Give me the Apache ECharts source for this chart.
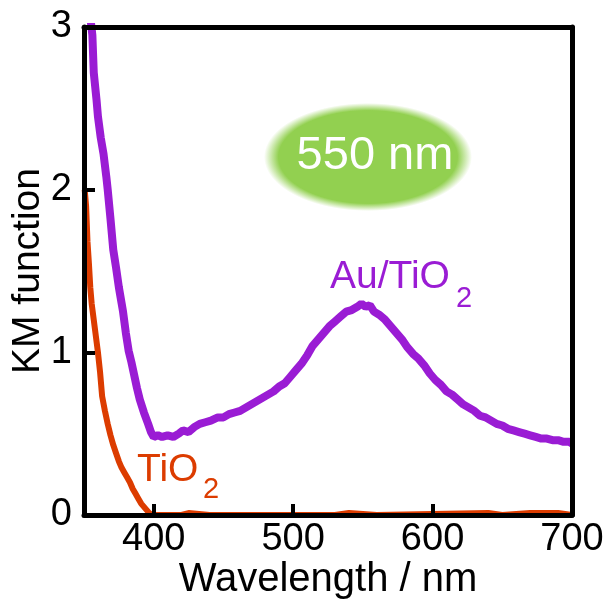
<!DOCTYPE html>
<html>
<head>
<meta charset="utf-8">
<title>KM function spectra</title>
<script src="https://cdn.jsdelivr.net/npm/echarts@6/dist/echarts.min.js"></script>
<style>
  html, body { margin: 0; padding: 0; background: #ffffff; }
  #chart { width: 608px; height: 604px; }
</style>
</head>
<body>
<div id="chart"></div>
<script>
// Wavelength ticks (nm) and KM-function ticks
const xTicks = [400, 500, 600, 700];
const yTicks = [0, 1, 2, 3];

// Au/TiO2 spectrum: wavelength (nm) and KM function
const auWl = [352, 354, 356, 357, 359, 360, 362, 364, 366, 367, 369, 371, 373, 375, 377, 378,
  380, 382, 384, 386, 388, 390, 393, 396, 398, 400, 403, 406, 410, 414, 418, 421, 425, 429,
  433, 437, 441, 446, 450, 454, 458, 462, 466, 470, 474, 478, 482, 486, 490, 494, 498, 502,
  506, 510, 514, 518, 522, 526, 530, 534, 538, 542, 546, 549, 552, 555, 558, 562, 566, 570,
  574, 578, 582, 586, 590, 594, 598, 602, 606, 610, 614, 618, 622, 626, 630, 634, 638, 642,
  646, 650, 654, 658, 662, 666, 670, 674, 678, 682, 686, 690, 694, 698, 700];
const auKM = [3.30, 3.10, 2.95, 2.72, 2.55, 2.45, 2.32, 2.22, 2.08, 2.00, 1.82, 1.63, 1.52, 1.40, 1.30, 1.25,
  1.12, 1.01, 0.94, 0.86, 0.78, 0.71, 0.63, 0.56, 0.51, 0.48, 0.49, 0.48, 0.49, 0.48, 0.50, 0.52, 0.51, 0.54,
  0.56, 0.57, 0.58, 0.60, 0.60, 0.62, 0.63, 0.64, 0.66, 0.68, 0.70, 0.72, 0.74, 0.76, 0.79, 0.81, 0.85, 0.89,
  0.93, 0.98, 1.04, 1.08, 1.12, 1.16, 1.19, 1.22, 1.25, 1.26, 1.28, 1.30, 1.28, 1.29, 1.25, 1.23, 1.20, 1.16,
  1.12, 1.08, 1.03, 0.99, 0.96, 0.92, 0.87, 0.83, 0.80, 0.76, 0.74, 0.71, 0.68, 0.66, 0.64, 0.61, 0.60, 0.58,
  0.56, 0.55, 0.53, 0.52, 0.51, 0.50, 0.49, 0.48, 0.47, 0.47, 0.46, 0.46, 0.45, 0.45, 0.44];

// Bare TiO2 spectrum: wavelength (nm) and KM function
const tiWl = [350.5, 351.5, 352.5, 353.5, 354.5, 355.5, 357, 358.5, 360, 361.5, 363, 365, 367, 369, 371,
  373, 375, 377, 379, 381, 383, 385, 387, 389, 391, 393, 395, 397, 399, 420, 425, 440, 530, 540, 560,
  640, 650, 670, 690, 700];
const tiKM = [2.00, 1.90, 1.68, 1.55, 1.40, 1.30, 1.20, 1.10, 1.00, 0.88, 0.73, 0.64, 0.56, 0.49, 0.43,
  0.38, 0.33, 0.29, 0.26, 0.23, 0.20, 0.16, 0.13, 0.10, 0.07, 0.05, 0.03, 0.01, 0.00, 0.00, 0.012, 0.00, 0.00, 0.012, 0.00,
  0.012, 0.00, 0.012, 0.012, 0.00];

const purple = '#9a1cd4';
const orange = '#dc3c00';
const fontFamily = '"Liberation Sans", Arial, Helvetica, sans-serif';

const pair = (xs, ys) => xs.map((x, i) => [x, ys[i]]);

const chart = echarts.init(document.getElementById('chart'), null, { renderer: 'canvas' });

const frameAxis = {
  axisLine: { show: true, onZero: false, lineStyle: { color: '#000', width: 5 } },
  axisTick: { show: false },
  axisLabel: { show: false },
  splitLine: { show: false },
  z: 10
};

chart.setOption({
  animation: false,
  backgroundColor: '#ffffff',
  grid: { left: 84, right: 36, top: 27, bottom: 89, containLabel: false, outerBoundsMode: 'none' },
  xAxis: [
    {
      type: 'value', min: 350, max: 700, position: 'bottom', z: 10,
      name: 'Wavelength / nm', nameLocation: 'middle', nameGap: 45, nameMoveOverlap: false,
      nameTextStyle: { color: '#000', fontSize: 40, fontFamily: fontFamily },
      axisLine: { show: true, onZero: false, lineStyle: { color: '#000', width: 5 } },
      axisTick: { show: true, inside: true, length: 11, customValues: xTicks, lineStyle: { color: '#000', width: 4 } },
      axisLabel: { show: true, margin: 6, customValues: xTicks, color: '#000', fontSize: 38, fontFamily: fontFamily },
      splitLine: { show: false }
    },
    Object.assign({ type: 'value', min: 350, max: 700, position: 'top' }, frameAxis)
  ],
  yAxis: [
    {
      type: 'value', min: 0, max: 3, interval: 1, position: 'left', z: 10,
      name: 'KM function', nameLocation: 'middle', nameGap: 36, nameMoveOverlap: false,
      nameTextStyle: { color: '#000', fontSize: 39, fontFamily: fontFamily },
      axisLine: { show: true, onZero: false, lineStyle: { color: '#000', width: 5 } },
      axisTick: { show: true, inside: true, length: 11, lineStyle: { color: '#000', width: 4 } },
      axisLabel: {
        show: true, margin: 12, color: '#000', fontSize: 38, fontFamily: fontFamily,
        showMinLabel: true, showMaxLabel: true,
        formatter: v => (yTicks.indexOf(v) >= 0 ? String(v) : '')
      },
      splitLine: { show: false }
    },
    Object.assign({ type: 'value', min: 0, max: 3, position: 'right' }, frameAxis)
  ],
  series: [
    {
      name: 'TiO2', type: 'line', xAxisIndex: 0, yAxisIndex: 0,
      data: pair(tiWl, tiKM), showSymbol: false, symbol: 'none',
      lineStyle: { color: orange, width: 6 }, z: 3, clip: true
    },
    {
      name: 'Au/TiO2', type: 'line', xAxisIndex: 0, yAxisIndex: 0,
      data: pair(auWl, auKM), showSymbol: false, symbol: 'none',
      lineStyle: { color: purple, width: 8 }, z: 4, clip: true
    }
  ],
  graphic: [
    // soft green badge marking the plasmon band
    {
      type: 'circle', x: 368, y: 157, scaleX: 104 / 54, scaleY: 1, z: 1,
      shape: { cx: 0, cy: 0, r: 54 },
      style: {
        fill: {
          type: 'radial', x: 0.5, y: 0.5, r: 0.5,
          colorStops: [
            { offset: 0, color: 'rgba(146,208,80,1)' },
            { offset: 0.86, color: 'rgba(146,208,80,1)' },
            { offset: 1, color: 'rgba(146,208,80,0)' }
          ]
        }
      }
    },
    {
      type: 'text', z: 5,
      style: { x: 375, y: 156, text: '550 nm', fill: '#ffffff', font: '47px ' + fontFamily, align: 'center', verticalAlign: 'middle' }
    },
    // series labels with subscripts
    {
      type: 'text', z: 5,
      style: { x: 330, y: 277, text: 'Au/TiO', fill: purple, font: '39px ' + fontFamily, align: 'left', verticalAlign: 'middle' }
    },
    {
      type: 'text', z: 5,
      style: { x: 456, y: 299, text: '2', fill: purple, font: '29px ' + fontFamily, align: 'left', verticalAlign: 'middle' }
    },
    {
      type: 'text', z: 5,
      style: { x: 137, y: 470, text: 'TiO', fill: orange, font: '39px ' + fontFamily, align: 'left', verticalAlign: 'middle' }
    },
    {
      type: 'text', z: 5,
      style: { x: 203, y: 490, text: '2', fill: orange, font: '29px ' + fontFamily, align: 'left', verticalAlign: 'middle' }
    }
  ]
});
</script>
</body>
</html>
